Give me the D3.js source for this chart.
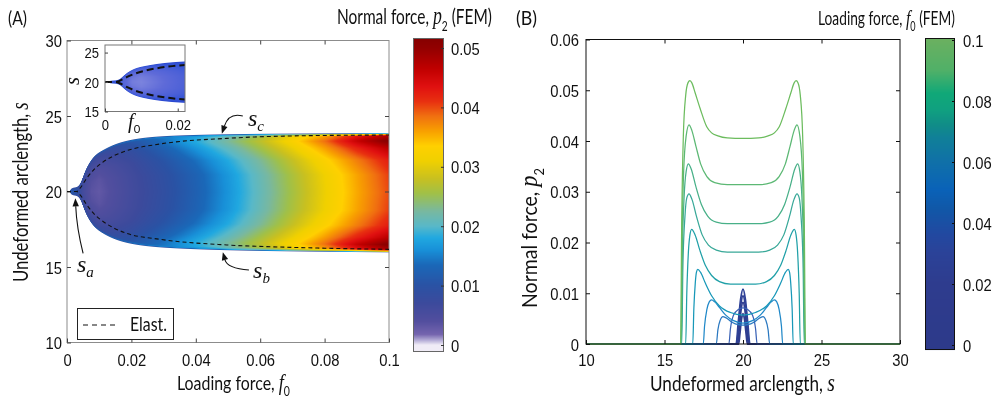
<!DOCTYPE html>
<html><head><meta charset="utf-8">
<script src="https://cdn.jsdelivr.net/npm/d3@7/dist/d3.min.js"></script>
<style>
html,body{margin:0;padding:0;background:#fff;}
#wrap{position:relative;width:998px;height:405px;overflow:hidden;background:#fff;}
canvas,svg{position:absolute;left:0;top:0;}
</style></head><body>
<div id="wrap"><canvas id="cv" width="998" height="405"></canvas><svg id="sv" width="998" height="405"></svg></div>
<script>
// ================= DATA =================
// Panel A: contact-region edges (FEM) versus loading force f0
const edgeF0    = [0.0008,0.0012,0.002,0.003,0.0038,0.0045,0.0051,0.0061,0.0077,0.0092,0.0113,0.0144,0.0185,0.0247,0.034,0.05,0.07,0.1];
const edgeUpper = [20.0,20.18,20.26,20.28,20.4,20.7,21.06,21.6,22.16,22.5,22.76,23.1,23.38,23.6,23.72,23.8,23.84,23.87];
const edgeLower = [20.0,19.82,19.74,19.72,19.6,19.3,18.94,18.4,17.84,17.5,17.2,16.86,16.58,16.36,16.22,16.1,16.03,15.97];
// Panel A: elastic prediction of the contact edges (dashed)
const elastF0    = [0,0.003,0.004,0.0061,0.0082,0.0113,0.0144,0.0185,0.029,0.0496,0.07,0.1];
const elastUpper = [20,20,20.2,20.87,21.42,21.97,22.35,22.7,23.15,23.52,23.68,23.74];
const elastLower = [20,20,19.8,19.13,18.56,18.0,17.6,17.23,16.83,16.46,16.3,16.17];
// Panel A: normal force p2 inside the contact region
// columns at heatF0, rows at relative position heatU (0 = centre of contact, 1 = contact edge)
const heatF0 = [0.001,0.003,0.005,0.0075,0.01,0.015,0.02,0.03,0.04,0.05,0.06,0.07,0.08,0.09,0.1];
const heatU  = [0,0.3,0.55,0.75,0.87,0.95,0.985,1];
const heatP2 = [
  [0.011,0.011,0.0105,0.010,0.0095,0.009,0.009,0.008],
  [0.0095,0.0095,0.0093,0.009,0.0088,0.0088,0.009,0.008],
  [0.006,0.0062,0.0067,0.0074,0.008,0.009,0.010,0.008],
  [0.0035,0.0039,0.0048,0.006,0.007,0.008,0.011,0.008],
  [0.003,0.0034,0.0043,0.0057,0.0068,0.0082,0.012,0.008],
  [0.0045,0.0048,0.0056,0.0068,0.0079,0.009,0.013,0.008],
  [0.006,0.0062,0.0069,0.0082,0.0095,0.0105,0.014,0.008],
  [0.0088,0.0091,0.0102,0.012,0.0136,0.0143,0.015,0.008],
  [0.0122,0.0125,0.0139,0.0162,0.018,0.0178,0.016,0.008],
  [0.0163,0.0166,0.0181,0.0206,0.0226,0.0218,0.018,0.008],
  [0.021,0.0213,0.0228,0.0255,0.0272,0.026,0.02,0.008],
  [0.0258,0.0262,0.0278,0.0305,0.0325,0.031,0.022,0.008],
  [0.0307,0.031,0.0328,0.036,0.0385,0.036,0.025,0.008],
  [0.0355,0.0358,0.0378,0.042,0.046,0.043,0.028,0.008],
  [0.040,0.0405,0.0425,0.047,0.0515,0.048,0.032,0.008]
];
// Panel B: p2 profiles [s, p2] for several loading forces
const curveF0 = [0.0025,0.005,0.0075,0.01,0.02,0.03,0.04,0.05,0.06,0.07,0.08,0.09,0.1];
const p2_f0_0025 = [[10,0],[19.72,0],[19.8,0.002],[19.9,0.0048],[20,0.006],[20.1,0.0048],[20.2,0.002],[20.28,0],[30,0]];
const p2_f0_005  = [[10,0],[19.66,0],[19.76,0.003],[19.88,0.0068],[20,0.0082],[20.12,0.0068],[20.24,0.003],[20.34,0],[30,0]];
const p2_f0_0075 = [[10,0],[19.6,0],[19.72,0.0035],[19.86,0.0078],[20,0.0095],[20.14,0.0078],[20.28,0.0035],[20.4,0],[30,0]];
const p2_f0_010  = [[10,0],[19.56,0],[19.7,0.0042],[19.85,0.0088],[20,0.0108],[20.15,0.0088],[20.3,0.0042],[20.44,0],[30,0]];
const p2_f0_020  = [[10,0],[19.1,0],[19.2,0.003],[19.4,0.0057],[19.7,0.0068],[20,0.0071],[20.3,0.0068],[20.6,0.0057],[20.8,0.003],[20.9,0],[30,0]];
const p2_f0_030  = [[10,0],[18.3,0],[18.4,0.0028],[18.55,0.0047],[18.72,0.0054],[18.9,0.0052],[19.3,0.0043],[19.7,0.0038],[20,0.0037],[20.3,0.0038],[20.7,0.0043],[21.1,0.0052],[21.28,0.0054],[21.45,0.0047],[21.6,0.0028],[21.7,0],[30,0]];
const p2_f0_040  = [[10,0],[17.47,0],[17.55,0.0035],[17.7,0.0068],[17.85,0.0083],[18.0,0.0087],[18.2,0.0083],[18.5,0.0072],[18.9,0.0057],[19.4,0.0046],[20,0.0041],[20.6,0.0046],[21.1,0.0057],[21.5,0.0072],[21.8,0.0083],[22.0,0.0087],[22.15,0.0083],[22.3,0.0068],[22.45,0.0035],[22.53,0],[30,0]];
const p2_f0_050  = [[10,0],[16.8,0],[16.87,0.007],[16.96,0.012],[17.04,0.0142],[17.12,0.0147],[17.3,0.0141],[17.6,0.012],[18.0,0.0095],[18.5,0.0075],[19.2,0.0062],[20,0.0057],[20.8,0.0062],[21.5,0.0075],[22.0,0.0095],[22.4,0.012],[22.7,0.0141],[22.88,0.0147],[22.96,0.0142],[23.04,0.012],[23.13,0.007],[23.2,0],[30,0]];
const p2_f0_060  = [[10,0],[16.35,0],[16.42,0.01],[16.52,0.018],[16.62,0.0215],[16.73,0.0226],[16.95,0.0215],[17.25,0.0185],[17.6,0.0155],[18.0,0.0135],[18.5,0.0123],[19.2,0.0118],[20,0.0118],[20.8,0.0118],[21.5,0.0123],[22.0,0.0135],[22.4,0.0155],[22.75,0.0185],[23.05,0.0215],[23.27,0.0226],[23.38,0.0215],[23.48,0.018],[23.58,0.01],[23.65,0],[30,0]];
const p2_f0_070  = [[10,0],[16.1,0],[16.17,0.015],[16.3,0.025],[16.42,0.0288],[16.56,0.0296],[16.75,0.0285],[17.05,0.025],[17.4,0.0215],[17.8,0.0195],[18.3,0.0185],[19.0,0.0181],[20,0.0181],[21,0.0181],[21.7,0.0185],[22.2,0.0195],[22.6,0.0215],[22.95,0.025],[23.25,0.0285],[23.44,0.0296],[23.58,0.0288],[23.7,0.025],[23.83,0.015],[23.9,0],[30,0]];
const p2_f0_080  = [[10,0],[16.07,0],[16.14,0.018],[16.25,0.029],[16.38,0.034],[16.52,0.0355],[16.7,0.0345],[17.0,0.031],[17.35,0.0275],[17.75,0.0252],[18.3,0.024],[19.0,0.0237],[20,0.0237],[21.0,0.0237],[21.7,0.024],[22.25,0.0252],[22.65,0.0275],[23.0,0.031],[23.3,0.0345],[23.48,0.0355],[23.62,0.034],[23.75,0.029],[23.86,0.018],[23.93,0],[30,0]];
const p2_f0_090  = [[10,0],[16.05,0],[16.12,0.02],[16.22,0.034],[16.38,0.041],[16.56,0.0432],[16.75,0.042],[17.0,0.039],[17.3,0.0355],[17.7,0.033],[18.2,0.0318],[19.0,0.0314],[20,0.0314],[21.0,0.0314],[21.8,0.0318],[22.3,0.033],[22.7,0.0355],[23.0,0.039],[23.25,0.042],[23.44,0.0432],[23.62,0.041],[23.78,0.034],[23.88,0.02],[23.95,0],[30,0]];
const p2_f0_100  = [[10,0],[16.02,0],[16.1,0.025],[16.2,0.041],[16.35,0.049],[16.5,0.0515],[16.62,0.0519],[16.75,0.0514],[16.95,0.0495],[17.27,0.0464],[17.69,0.0428],[18.0,0.0416],[18.4,0.041],[19.0,0.0406],[20,0.0405],[21.0,0.0406],[21.6,0.041],[22.0,0.0416],[22.31,0.0428],[22.73,0.0464],[23.05,0.0495],[23.25,0.0514],[23.38,0.0519],[23.5,0.0515],[23.65,0.049],[23.8,0.041],[23.9,0.025],[23.98,0],[30,0]];
const curveProfiles = [p2_f0_0025,p2_f0_005,p2_f0_0075,p2_f0_010,p2_f0_020,p2_f0_030,p2_f0_040,p2_f0_050,p2_f0_060,p2_f0_070,p2_f0_080,p2_f0_090,p2_f0_100];
// ticks
const ticksAx = [0,0.02,0.04,0.06,0.08,0.1],  labelsAx = ["0","0.02","0.04","0.06","0.08","0.1"];
const ticksAy = [10,15,20,25,30],             labelsAy = ["10","15","20","25","30"];
const ticksCA = [0,0.01,0.02,0.03,0.04,0.05], labelsCA = ["0","0.01","0.02","0.03","0.04","0.05"];
const ticksBx = [10,15,20,25,30],             labelsBx = ["10","15","20","25","30"];
const ticksBy = [0,0.01,0.02,0.03,0.04,0.05,0.06], labelsBy = ["0","0.01","0.02","0.03","0.04","0.05","0.06"];
const ticksCB = [0,0.02,0.04,0.06,0.08,0.1],  labelsCB = ["0","0.02","0.04","0.06","0.08","0.1"];
const ticksIx = [0,0.02], labelsIx = ["0","0.02"];
const ticksIy = [15,20,25], labelsIy = ["15","20","25"];

// ================= STYLE =================
const SANS = "'Liberation Sans', Arial, sans-serif";
const TITLE = "Lato, 'Open Sans', sans-serif";
const SERIF = "'Liberation Serif', 'Times New Roman', serif";
const stopsA = [0,0.0008,0.0018,0.004,0.007,0.010,0.0135,0.016,0.018,0.020,0.0225,0.0255,0.028,0.031,0.0335,0.036,0.0385,0.041,0.0435,0.0465,0.050,0.052];
const colsA  = ["#f0ecf6","#b4acd6","#7464ae","#524e9e","#3c4a9c","#2a52a4","#1a68b8","#1890d8","#20a8e0","#58b8c8","#78b8a0","#a0c048","#c8c020","#f0d000","#ffd000","#f8a000","#f07010","#e83010","#e01010","#c00000","#920000","#820000"];
const stopsB = [0,0.02,0.03,0.036,0.045,0.051,0.06,0.068,0.072,0.077,0.0825,0.09,0.1];
const colsB  = ["#2d3a8a","#2e3c8e","#2b4298","#2248a0","#1058a8","#0a62b8","#1070a8","#108098","#108c88","#10a080","#10a878","#50b068","#6ab060"];
const curveStroke = ["#2f3d8f","#2f3d8f","#2f3f92","#2e4196","#3a62b6","#2a78c0","#2088c8","#1898b8","#20a0a8","#38a898","#48b088","#5cb874","#6cbc5e"];
const insetStops = [0.002,0.005,0.009,0.012];
const insetCols  = ["#8a90e0","#5e6ad8","#3454d6","#2a48d0"];

// ================= SCALES =================
const xA = d3.scaleLinear().domain([0,0.1]).range([67,389]);
const yA = d3.scaleLinear().domain([10,30]).range([342.5,40.5]);
const cA = d3.scaleLinear().domain([0,0.05]).range([345,48]);
const xB = d3.scaleLinear().domain([10,30]).range([586,900]);
const yB = d3.scaleLinear().domain([0,0.06]).range([344,39.5]);
const cB = d3.scaleLinear().domain([0,0.1]).range([345,40]);
const xI = d3.scaleLinear().domain([0,0.022]).range([105,185]);
const yI = d3.scaleLinear().domain([15,26.2]).range([111.5,45.5]);
const colorA = d3.scaleLinear().domain(stopsA).range(colsA).clamp(true);
const colorB = d3.scaleLinear().domain(stopsB).range(colsB).clamp(true);
const colorI = d3.scaleLinear().domain(insetStops).range(insetCols).clamp(true);

// smooth edge lookup (B-spline through the edge samples)
function edgeLookup(f0s, ss) {
  const bf = d3.interpolateBasis(f0s), bs = d3.interpolateBasis(ss);
  const N = 800, fx = [], sy = [];
  for (let i = 0; i <= N; i++) { fx.push(bf(i / N)); sy.push(bs(i / N)); }
  return d3.scaleLinear().domain(fx).range(sy).clamp(true);
}
const upperAt = edgeLookup(edgeF0, edgeUpper);
const lowerAt = edgeLookup(edgeF0, edgeLower);
const rowScales = heatU.map((_, j) => d3.scaleLinear().domain(heatF0).range(heatP2.map(r => r[j])).clamp(true));

function makeLut(scale, vmax) {
  const arr = d3.range(1024).map(i => d3.rgb(scale(i / 1023 * vmax)));
  return v => arr[Math.max(0, Math.min(1023, Math.round(v / vmax * 1023)))];
}
const lutA = makeLut(colorA, 0.052);
const lutI = makeLut(colorI, 0.014);

const ctx = document.getElementById("cv").getContext("2d");
function paintField(xs, ys, box, lut) {
  const [bx0, by0, bx1, by1] = box;
  const w = bx1 - bx0, h = by1 - by0;
  const img = ctx.createImageData(w, h);
  const pxPerS = Math.abs(ys(1) - ys(0));
  const pxPerF = Math.abs(xs(1) - xs(0));
  const fMin = edgeF0[0], fMax = edgeF0[edgeF0.length - 1];
  for (let i = 0; i < w; i++) {
    const f0 = xs.invert(bx0 + i + 0.5);
    if (f0 < fMin - 0.5 / pxPerF || f0 > fMax) continue;
    const fc = Math.max(f0, fMin);
    const up = upperAt(fc), lo = lowerAt(fc);
    const c = (up + lo) / 2, hw = (up - lo) / 2;
    const prof = d3.scaleLinear().domain(heatU).range(rowScales.map(r => r(fc))).clamp(true);
    const ax = Math.max(0, Math.min(1, (f0 - fMin) * pxPerF + 0.5));
    for (let k = 0; k < h; k++) {
      const s = ys.invert(by0 + k + 0.5);
      const d = Math.abs(s - c);
      let a = (hw - d) * pxPerS + 0.5;
      if (a <= 0) continue;
      a = Math.min(1, a) * ax;
      const u = hw > 0 ? Math.min(1, d / hw) : 1;
      const col = lut(prof(u));
      const o = (k * w + i) * 4;
      img.data[o] = col.r; img.data[o + 1] = col.g; img.data[o + 2] = col.b;
      img.data[o + 3] = Math.round(a * 255);
    }
  }
  ctx.putImageData(img, bx0, by0);
}
paintField(xA, yA, [67, 40, 389, 343], lutA);
paintField(xI, yI, [105, 45, 185, 112], lutI);

// ================= SVG =================
const svg = d3.select("#sv");
function rich(parent, parts, o) {
  const g = parent.append("g");
  const t = g.append("text").attr("font-family", o.family || TITLE).attr("font-size", o.size).attr("fill", "#111");
  let cur = 0;
  for (const [str, kind] of parts) {
    const ts = t.append("tspan").text(str);
    let target = 0;
    if (kind === "m") ts.attr("font-family", SERIF).attr("font-style", "italic").attr("font-size", o.size * (o.mScale || 1.15));
    else if (kind === "sub") { ts.attr("font-size", o.size * 0.66); target = o.size * 0.32; }
    if (target !== cur) ts.attr("dy", target - cur);
    cur = target;
  }
  const w = t.node().getComputedTextLength();
  const sx = o.width ? o.width / w : (o.sx || 1);
  let x0 = 0;
  if (o.anchor === "end") x0 = -w; else if (o.anchor === "middle") x0 = -w / 2;
  t.attr("x", x0);
  g.attr("transform", `translate(${o.x},${o.y}) rotate(${o.rotate || 0}) scale(${sx},1)`);
  return g;
}

const TSX = 0.87;
function styleAxis(a, size, kind, off, color) {
  a.attr("font-family", SANS).attr("font-size", size);
  a.select(".domain").remove();
  a.selectAll(".tick line").attr("stroke", color || "#222");
  const tx = a.selectAll(".tick text").attr("fill", "#111");
  if (kind === "bottom") tx.attr("y", null).attr("dy", null).attr("transform", `translate(0,${off}) scale(${TSX},1)`);
  if (kind === "left") tx.attr("x", null).attr("dy", "0.36em").attr("transform", `translate(${-off},0) scale(${TSX},1)`);
  if (kind === "right") tx.attr("x", null).attr("dy", "0.36em").attr("transform", `translate(${off},0) scale(${TSX},1)`);
  return a;
}
const fmt = (ticks, labels) => d => labels[ticks.indexOf(d)];

// ---------- Panel A ----------
const gA = svg.append("g");
gA.append("rect").attr("x", xA(0)).attr("y", yA(30)).attr("width", xA(0.1) - xA(0)).attr("height", yA(10) - yA(30))
  .attr("fill", "none").attr("stroke", "#8c8c8c").attr("stroke-width", 1);
styleAxis(gA.append("g").attr("transform", `translate(0,${yA(10)})`).call(d3.axisBottom(xA).tickValues(ticksAx).tickFormat(fmt(ticksAx, labelsAx)).tickSizeInner(-4).tickSizeOuter(0)), 17, "bottom", 23, "#444");
styleAxis(gA.append("g").attr("transform", `translate(0,${yA(30)})`).call(d3.axisTop(xA).tickValues(ticksAx.slice(1, -1)).tickFormat("").tickSizeInner(-4).tickSizeOuter(0)), 17, "top", 0, "#444");
styleAxis(gA.append("g").attr("transform", `translate(${xA(0)},0)`).call(d3.axisLeft(yA).tickValues(ticksAy).tickFormat(fmt(ticksAy, labelsAy)).tickSizeInner(-4).tickSizeOuter(0)), 17, "left", 5, "#444");
styleAxis(gA.append("g").attr("transform", `translate(${xA(0.1)},0)`).call(d3.axisRight(yA).tickValues(ticksAy.slice(1, -1)).tickFormat("").tickSizeInner(-4).tickSizeOuter(0)), 17, "right", 0, "#444");

// elastic dashed lines
const elastLine = d3.line().curve(d3.curveMonotoneX);
const clipA = svg.append("clipPath").attr("id", "clipA");
clipA.append("rect").attr("x", xA(0)).attr("y", yA(30)).attr("width", xA(0.1) - xA(0)).attr("height", yA(10) - yA(30));
const dashG = gA.append("g").attr("clip-path", "url(#clipA)");
[elastUpper, elastLower].forEach(arr => {
  dashG.append("path").attr("d", elastLine(elastF0.map((f, i) => [xA(f), yA(arr[i])])))
    .attr("fill", "none").attr("stroke", "#111").attr("stroke-width", 1.1).attr("stroke-dasharray", "4,3");
});

// annotations s_a, s_b, s_c
function arrow(g, tail, ctrl, head) {
  const T = [xA(tail[0]), yA(tail[1])], C = [xA(ctrl[0]), yA(ctrl[1])], H = [xA(head[0]), yA(head[1])];
  const ang = Math.atan2(H[1] - C[1], H[0] - C[0]);
  const L = 8, Wd = 3.2;
  const bx = H[0] - L * Math.cos(ang), by = H[1] - L * Math.sin(ang);
  g.append("path").attr("d", `M${T[0]},${T[1]} Q${C[0]},${C[1]} ${bx},${by}`).attr("fill", "none").attr("stroke", "#111").attr("stroke-width", 1.1);
  const p1 = [bx + Wd * Math.sin(ang), by - Wd * Math.cos(ang)], p2 = [bx - Wd * Math.sin(ang), by + Wd * Math.cos(ang)];
  g.append("path").attr("d", `M${H[0]},${H[1]}L${p1[0]},${p1[1]}L${p2[0]},${p2[1]}Z`).attr("fill", "#111");
}
arrow(gA, [0.0546, 25.0], [0.0503, 25.25], [0.0481, 23.83]);
arrow(gA, [0.0565, 14.8], [0.0498, 14.9], [0.0484, 15.98]);
arrow(gA, [0.0050, 15.9], [0.0030, 17.6], [0.0026, 19.55]);
function sLabel(g, f0, s, sub) {
  const t = g.append("text").attr("x", xA(f0)).attr("y", yA(s)).attr("font-family", SERIF).attr("font-style", "italic").attr("fill", "#111");
  t.append("tspan").attr("font-size", 24).text("s");
  t.append("tspan").attr("font-size", 15).attr("dy", 5).text(sub);
}
sLabel(gA, 0.0562, 24.35, "c");
sLabel(gA, 0.0578, 14.3, "b");
sLabel(gA, 0.0031, 14.7, "a");

// legend
const lg = gA.append("g");
lg.append("rect").attr("x", 77.5).attr("y", 308.5).attr("width", 96).attr("height", 31).attr("fill", "#fff").attr("stroke", "#222").attr("stroke-width", 1);
lg.append("line").attr("x1", 83).attr("x2", 117).attr("y1", 325).attr("y2", 325).attr("stroke", "#111").attr("stroke-width", 1.1).attr("stroke-dasharray", "5,4");
rich(lg, [["Elast."]], { x: 130, y: 331, size: 19, width: 37 });

// inset
const gI = svg.append("g");
const clipI = svg.append("clipPath").attr("id", "clipI");
clipI.append("rect").attr("x", 105).attr("y", 45).attr("width", 80).attr("height", 67);
const dashI = gI.append("g").attr("clip-path", "url(#clipI)");
[elastUpper, elastLower].forEach(arr => {
  dashI.append("path").attr("d", elastLine(elastF0.map((f, i) => [xI(f), yI(arr[i])])))
    .attr("fill", "none").attr("stroke", "#111").attr("stroke-width", 2).attr("stroke-dasharray", "7,4");
});
gI.append("rect").attr("x", 105).attr("y", 45).attr("width", 80).attr("height", 66.5).attr("fill", "none").attr("stroke", "#777").attr("stroke-width", 1);
styleAxis(gI.append("g").attr("transform", `translate(0,${yI(15)})`).call(d3.axisBottom(xI).tickValues(ticksIx).tickFormat(fmt(ticksIx, labelsIx)).tickSizeInner(-3).tickSizeOuter(0)), 15, "bottom", 18, "#444");
styleAxis(gI.append("g").attr("transform", `translate(${xI(0)},0)`).call(d3.axisLeft(yI).tickValues(ticksIy).tickFormat(fmt(ticksIy, labelsIy)).tickSizeInner(-3).tickSizeOuter(0)), 15, "left", 6, "#444");
rich(gI, [["f", "m"], ["0", "sub"]], { x: 128, y: 128, size: 17, mScale: 1.2 });
rich(gI, [["s", "m"]], { x: 79, y: 81, size: 17, rotate: -90, anchor: "middle", mScale: 1.2 });

// colorbar A
const gCA = svg.append("g");
gCA.selectAll("rect.cb").data(d3.range(38, 352)).join("rect").attr("class", "cb")
  .attr("x", 413).attr("y", d => d).attr("width", 31).attr("height", 1.05).attr("fill", d => colorA(cA.invert(d + 0.5)));
gCA.append("rect").attr("x", 413.5).attr("y", 38.5).attr("width", 30).attr("height", 313).attr("fill", "none").attr("stroke", "#666");
styleAxis(gCA.append("g").attr("transform", "translate(444,0)").call(d3.axisRight(cA).tickValues(ticksCA).tickFormat(fmt(ticksCA, labelsCA)).tickSizeInner(-3).tickSizeOuter(0)), 17, "right", 7, "#333");

// titles panel A
rich(svg, [["(A)"]], { x: 8, y: 25, size: 19, width: 19 });
rich(svg, [["Normal force, "], ["p", "m"], ["2", "sub"], [" (FEM)"]], { x: 337, y: 24, size: 21, width: 155 });
rich(svg, [["Loading force, "], ["f", "m"], ["0", "sub"]], { x: 233.5, y: 390, size: 20, width: 113, anchor: "middle" });
rich(svg, [["Undeformed arclength, "], ["s", "m"]], { x: 28, y: 192, size: 21, width: 180, anchor: "middle", rotate: -90 });

// ---------- Panel B ----------
const gB = svg.append("g");
const clipB = svg.append("clipPath").attr("id", "clipB");
clipB.append("rect").attr("x", xB(10)).attr("y", yB(0.06)).attr("width", xB(30) - xB(10)).attr("height", yB(0) - yB(0.06) + 1.5);
const lineB = d3.line().x(d => xB(d[0])).y(d => yB(d[1])).curve(d3.curveMonotoneX);
const cg = gB.append("g").attr("clip-path", "url(#clipB)");
curveProfiles.forEach((prof, i) => {
  cg.append("path").attr("d", lineB(prof)).attr("fill", "none")
    .attr("stroke", curveStroke[i]).attr("stroke-width", curveF0[i] <= 0.01 ? 1.8 : 1.25).attr("stroke-linejoin", "round");
});
gB.append("rect").attr("x", xB(10)).attr("y", yB(0.06)).attr("width", xB(30) - xB(10)).attr("height", yB(0) - yB(0.06))
  .attr("fill", "none").attr("stroke", "#111").attr("stroke-width", 1);
styleAxis(gB.append("g").attr("transform", `translate(0,${yB(0)})`).call(d3.axisBottom(xB).tickValues(ticksBx).tickFormat(fmt(ticksBx, labelsBx)).tickSizeInner(-4).tickSizeOuter(0)), 17, "bottom", 21.5, "#111");
styleAxis(gB.append("g").attr("transform", `translate(0,${yB(0.06)})`).call(d3.axisTop(xB).tickValues(ticksBx.slice(1, -1)).tickFormat("").tickSizeInner(-4).tickSizeOuter(0)), 17, "top", 0, "#111");
styleAxis(gB.append("g").attr("transform", `translate(${xB(10)},0)`).call(d3.axisLeft(yB).tickValues(ticksBy).tickFormat(fmt(ticksBy, labelsBy)).tickSizeInner(-4).tickSizeOuter(0)), 17, "left", 7, "#111");
styleAxis(gB.append("g").attr("transform", `translate(${xB(30)},0)`).call(d3.axisRight(yB).tickValues(ticksBy.slice(1, -1)).tickFormat("").tickSizeInner(-4).tickSizeOuter(0)), 17, "right", 0, "#111");

// colorbar B
const gCB = svg.append("g");
gCB.selectAll("rect.cb").data(d3.range(38, 350)).join("rect").attr("class", "cb")
  .attr("x", 925).attr("y", d => d).attr("width", 30).attr("height", 1.05).attr("fill", d => colorB(cB.invert(d + 0.5)));
gCB.append("rect").attr("x", 925.5).attr("y", 38.5).attr("width", 29).attr("height", 311).attr("fill", "none").attr("stroke", "#111");
styleAxis(gCB.append("g").attr("transform", "translate(955,0)").call(d3.axisRight(cB).tickValues(ticksCB).tickFormat(fmt(ticksCB, labelsCB)).tickSizeInner(-3).tickSizeOuter(0)), 17, "right", 8, "#111");

// titles panel B
rich(svg, [["(B)"]], { x: 516, y: 25, size: 19, width: 21 });
rich(svg, [["Loading force, "], ["f", "m"], ["0", "sub"], [" (FEM)"]], { x: 818, y: 25, size: 19, width: 137 });
rich(svg, [["Undeformed arclength, "], ["s", "m"]], { x: 742.5, y: 391, size: 21, width: 185, anchor: "middle" });
rich(svg, [["Normal force, "], ["p", "m"], ["2", "sub"]], { x: 537, y: 238, size: 21, width: 140, anchor: "middle", rotate: -90 });
</script>
</body></html>
